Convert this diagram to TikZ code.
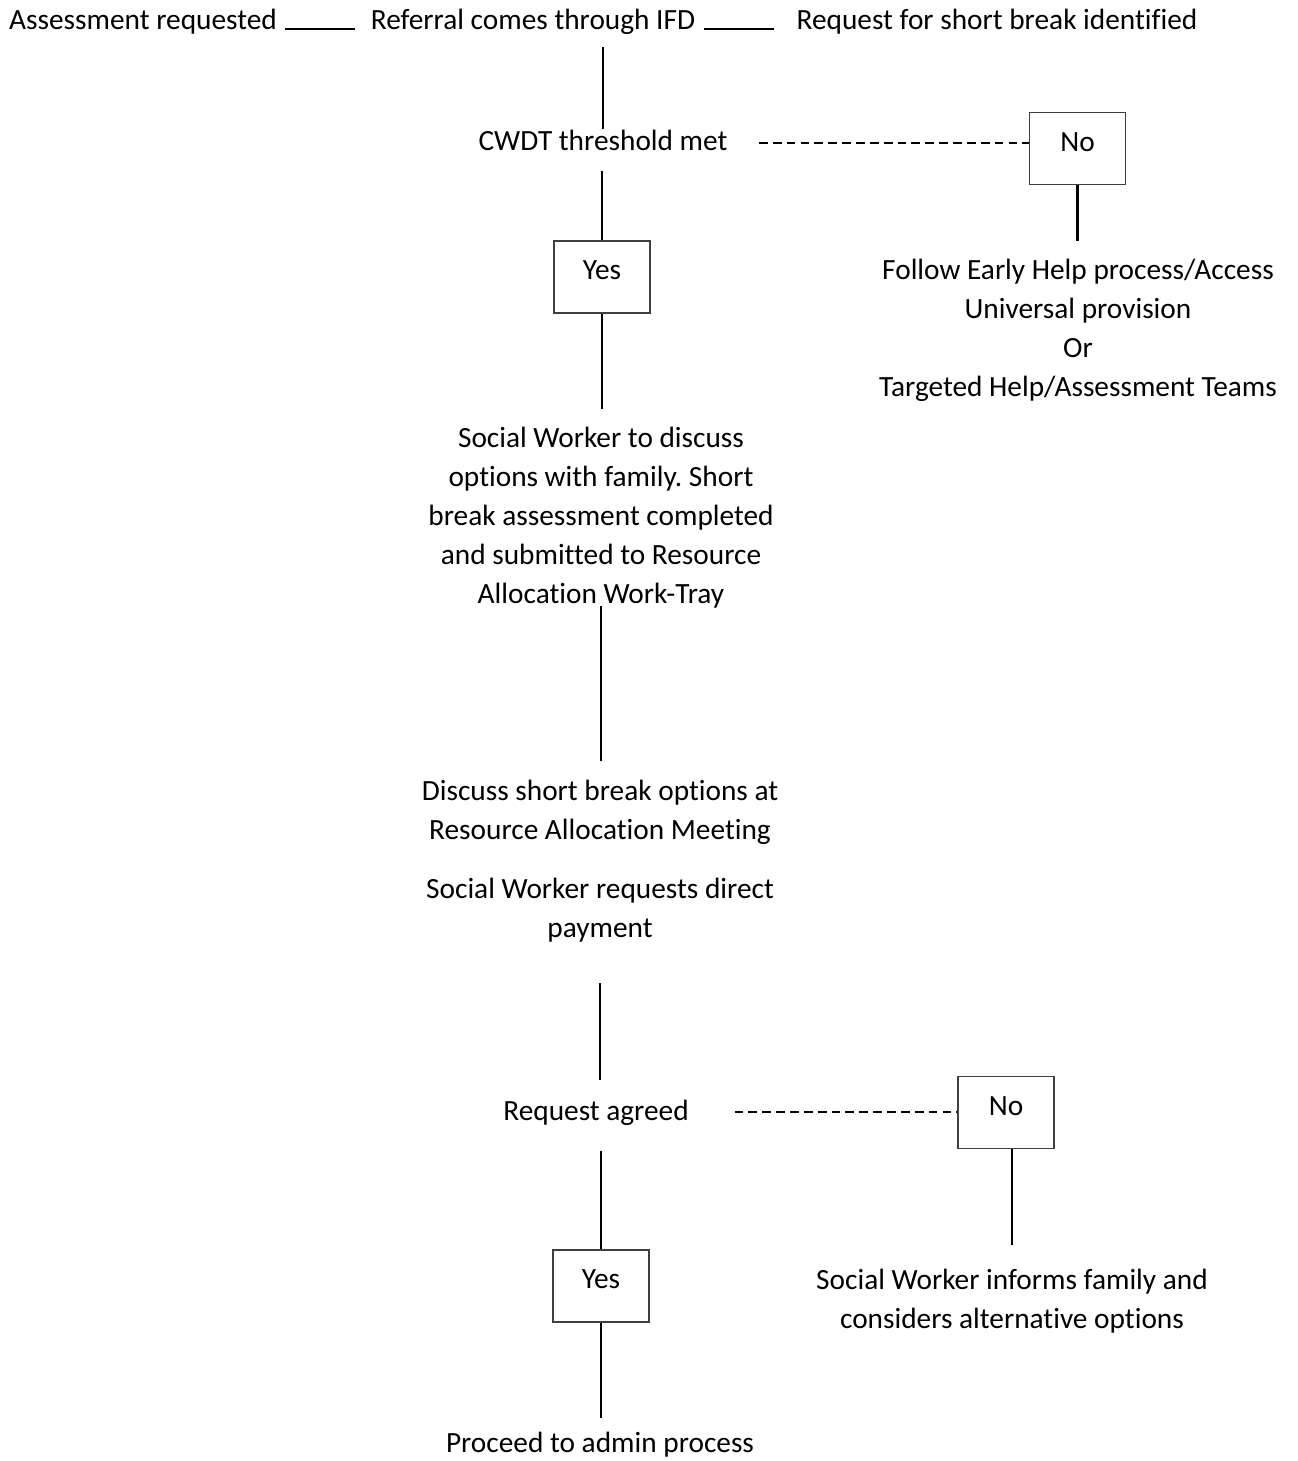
\documentclass[tikz,border=0pt]{standalone}
\usepackage{fontspec}
\setmainfont{Carlito}[Ligatures=NoCommon]
\definecolor{mInk}{HTML}{000000}
\definecolor{mBoxGrey}{HTML}{3F3F3F}
\usepackage{tikz}
\usetikzlibrary{positioning}
\frenchspacing

\begin{document}
\begin{tikzpicture}[x=0.375pt, y=-0.375pt,
  txt/.style={align=center, inner sep=0pt, anchor=base, text=mInk,
    font=\fontsize{11}{14.625}\selectfont},
  choice/.style={draw=mBoxGrey, line width=0.6pt, minimum width=36pt,
    minimum height=27pt, inner sep=0pt, text depth=5pt,
    font=\fontsize{11}{14.625}\selectfont},
  link/.style={mInk, line width=0.85pt},
  nolink/.style={mInk, line width=0.75pt, dash pattern=on 3.3pt off 1.9pt}]
\useasboundingbox (0,0) rectangle (1298,1461);
% top row
\node[txt] (assess) at (143,29) {Assessment requested};
\node[txt] (ifd) at (533,29) {Referral comes through IFD};
\node[txt] (shortbreak) at (997,29) {Request for short break identified};
\draw[link, shorten <=3pt, shorten >=5.6pt] (assess.base east) -- (ifd.base west);
\draw[link, shorten <=3pt, shorten >=8.2pt] (ifd.base east) -- (shortbreak.base west);
% threshold (base = last line)
\node[txt] (cwdt) at (603,150) {CWDT threshold met};
\node[choice] (no1) at (1077.5,148.5) {No};
\node[choice] (yes1) at (602,277) {Yes};
\node[txt] (earlyhelp) at (1078,396) {Follow Early Help process/Access\\Universal provision\\Or\\Targeted Help/Assessment Teams};
\draw[link, shorten >=4.5pt] (cwdt.north) -- (cwdt.north |- ifd.south);
\draw[nolink, shorten <=11.6pt] ([yshift=-1.1pt]cwdt.east) -- ([yshift=-1.1pt]cwdt.east -| no1.west);
\draw[link, shorten <=7.5pt] (yes1.north |- cwdt.south) -- (yes1.north);
\draw[link, shorten >=6.4pt] (no1.south) -- (no1.south |- earlyhelp.north);
% assessment and meeting
\node[txt] (socialwk) at (601,603) {Social Worker to discuss\\options with family. Short\\break assessment completed\\and submitted to Resource\\Allocation Work-Tray};
\node[txt] (meeting) at (600,839) {Discuss short break options at\\Resource Allocation Meeting};
\node[txt] (direct) at (600,937) {Social Worker requests direct\\payment};
\draw[link, shorten >=6.4pt] (yes1.south) -- (yes1.south |- socialwk.north);
\draw[link, shorten <=-1pt, shorten >=6.8pt] (socialwk.south) -- (socialwk.south |- meeting.north);
% request decision
\node[txt] (agreed) at (596,1120) {Request agreed};
\node[choice] (no2) at (1006,1112.5) {No};
\node[choice] (yes2) at (601,1286) {Yes};
\node[txt] (informs) at (1012,1328) {Social Worker informs family and\\considers alternative options};
\node[txt] (admin) at (600,1452) {Proceed to admin process};
\draw[link, shorten <=15.4pt, shorten >=7pt] (direct.south) -- (direct.south |- agreed.north);
\draw[nolink, shorten <=17pt] (agreed.east) -- (agreed.east -| no2.west);
\draw[link, shorten <=9.6pt] (yes2.north |- agreed.south) -- (yes2.north);
\draw[link, shorten >=8.6pt] (informs.north |- no2.south) -- (informs.north);
\draw[link, shorten >=4.9pt] (yes2.south) -- (yes2.south |- admin.north);
\end{tikzpicture}
\end{document}
